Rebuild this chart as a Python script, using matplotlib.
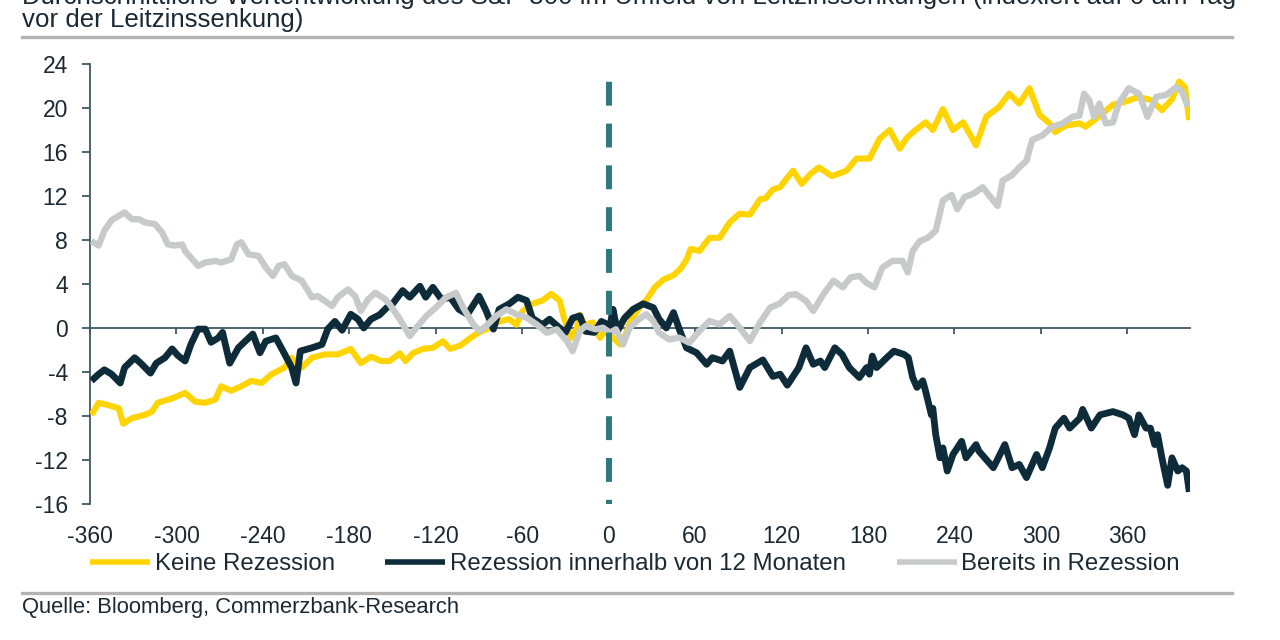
import matplotlib
matplotlib.use("Agg")
import matplotlib.pyplot as plt
from matplotlib.lines import Line2D

plt.rcParams['font.family'] = ['Liberation Sans', 'DejaVu Sans']

# ---------------- data ----------------
title_line1 = "Durchschnittliche Wertentwicklung des S&P 500 im Umfeld von Leitzinssenkungen (indexiert auf 0 am Tag"
title_line2 = "vor der Leitzinssenkung)"
source_text = "Quelle: Bloomberg, Commerzbank-Research"
series_names = ["Keine Rezession", "Rezession innerhalb von 12 Monaten", "Bereits in Rezession"]

x_ticks = [-360, -300, -240, -180, -120, -60, 0, 60, 120, 180, 240, 300, 360]
y_ticks = [-16, -12, -8, -4, 0, 4, 8, 12, 16, 20, 24]

keine_rezession = [
    (-359, -7.9), (-354, -6.8), (-345, -7.1), (-340, -7.3), (-337, -8.7), (-331, -8.2),
    (-322, -7.9), (-317, -7.6), (-313, -6.8), (-303, -6.4), (-294, -5.9), (-287, -6.7),
    (-280, -6.8), (-273, -6.5), (-269, -5.3), (-262, -5.7), (-255, -5.3), (-248, -4.8),
    (-241, -5.0), (-234, -4.2), (-225, -3.6), (-220, -2.7), (-213, -3.6), (-206, -2.7),
    (-197, -2.4), (-188, -2.4), (-179, -1.9), (-172, -3.2), (-165, -2.6), (-158, -3.0),
    (-152, -3.0), (-145, -2.3), (-141, -3.0), (-136, -2.3), (-129, -1.9), (-122, -1.8),
    (-115, -1.2), (-110, -1.9), (-103, -1.6), (-96, -0.9), (-90, -0.4), (-83, 0.0),
    (-76, 0.6), (-69, 0.8), (-64, 0.3), (-60, 1.5), (-53, 2.2), (-46, 2.5), (-40, 3.1),
    (-34, 2.5), (-31, 0.9), (-26, -0.9), (-22, 0.0), (-20, 1.2), (-17, 0.3), (-11, 0.5),
    (-6, -0.9), (-2, -0.2), (3, -0.9), (8, -1.5), (11, -0.9), (15, 0.6), (22, 2.0),
    (26, 2.5), (32, 3.7), (38, 4.4), (45, 4.8), (50, 5.4), (54, 6.2), (57, 7.2), (63, 7.0),
    (70, 8.2), (77, 8.2), (84, 9.6), (91, 10.4), (98, 10.3), (105, 11.7), (109, 11.8),
    (114, 12.6), (119, 12.8), (123, 13.5), (128, 14.3), (134, 13.1), (140, 14.0),
    (146, 14.6), (155, 13.8), (165, 14.3), (172, 15.4), (181, 15.4), (188, 17.2),
    (195, 18.0), (202, 16.3), (207, 17.3), (213, 18.0), (220, 18.7), (225, 18.0),
    (232, 19.9), (239, 18.0), (246, 18.7), (255, 16.6), (262, 19.2), (271, 20.1),
    (278, 21.3), (285, 20.4), (292, 21.8), (299, 19.4), (306, 18.6), (310, 17.8),
    (317, 18.4), (327, 18.6), (331, 18.3), (340, 19.2), (350, 20.3), (359, 20.6),
    (368, 21.0), (377, 20.7), (384, 19.8), (391, 20.8), (396, 22.4), (400, 21.9), (403, 18.9),
]

rezession_12m = [
    (-359, -4.8), (-354, -4.2), (-350, -3.8), (-345, -4.2), (-339, -5.0), (-336, -3.6),
    (-329, -2.7), (-324, -3.3), (-318, -4.1), (-314, -3.2), (-308, -2.7), (-303, -1.9),
    (-299, -2.5), (-294, -3.0), (-290, -1.5), (-285, -0.1), (-280, -0.1), (-276, -1.3),
    (-271, -0.9), (-268, -0.4), (-263, -3.2), (-257, -1.8), (-253, -1.3), (-247, -0.55),
    (-242, -2.25), (-238, -1.2), (-231, -0.9), (-226, -2.1), (-220, -3.6), (-217, -5.0),
    (-214, -2.1), (-206, -1.8), (-199, -1.5), (-195, -0.1), (-190, 0.6), (-185, -0.2),
    (-179, 1.25), (-174, 0.8), (-170, 0.0), (-165, 0.8), (-159, 1.2), (-154, 1.85),
    (-150, 2.2), (-143, 3.4), (-138, 2.8), (-131, 3.8), (-127, 2.8), (-122, 3.7),
    (-116, 2.6), (-110, 2.8), (-104, 1.7), (-98, 1.25), (-90, 2.9), (-85, 1.55),
    (-80, -0.1), (-76, 1.7), (-69, 2.2), (-63, 2.8), (-57, 2.5), (-53, 0.9), (-46, 0.3),
    (-41, 0.8), (-34, 0.0), (-30, -0.4), (-25, 0.9), (-20, 1.1), (-16, -0.3), (-10, -0.4),
    (-5, 0.6), (1, 0.2), (3, 1.7), (6, -0.3), (11, 0.9), (17, 1.7), (24, 2.2), (31, 1.85),
    (35, 0.8), (40, 0.0), (45, 1.4), (49, -0.1), (54, -1.8), (61, -2.25), (68, -3.3),
    (72, -2.7), (79, -3.0), (84, -2.1), (91, -5.4), (98, -3.6), (107, -2.9), (114, -4.4),
    (119, -4.2), (124, -5.2), (132, -3.6), (137, -1.8), (142, -3.3), (147, -3.0),
    (150, -3.6), (157, -1.8), (162, -2.4), (167, -3.6), (174, -4.5), (179, -3.6),
    (181, -4.2), (183, -2.55), (186, -3.6), (193, -2.7), (198, -2.1), (205, -2.4),
    (208, -2.7), (211, -4.5), (214, -5.4), (218, -4.8), (220, -5.75), (224, -7.9),
    (225, -7.3), (227, -9.7), (230, -11.8), (232, -10.9), (235, -13.0), (239, -11.5),
    (245, -10.3), (248, -11.8), (255, -10.6), (257, -11.2), (267, -12.7), (275, -10.6),
    (280, -12.7), (285, -12.4), (290, -13.6), (297, -11.5), (301, -12.7), (306, -10.9),
    (310, -9.1), (316, -8.2), (320, -9.1), (327, -8.2), (329, -7.4), (335, -9.1),
    (341, -7.9), (350, -7.6), (357, -7.9), (361, -8.2), (365, -9.7), (368, -7.9),
    (373, -9.1), (376, -9.1), (379, -10.6), (381, -9.7), (384, -11.8), (388, -14.3),
    (391, -11.8), (395, -13.0), (398, -12.7), (401, -13.0), (403, -14.9),
]

bereits_rezession = [
    (-359, 7.9), (-354, 7.5), (-350, 8.85), (-345, 9.8), (-340, 10.2), (-336, 10.5),
    (-331, 9.9), (-326, 9.9), (-322, 9.6), (-315, 9.45), (-310, 8.7), (-306, 7.6),
    (-301, 7.5), (-296, 7.6), (-294, 7.0), (-290, 6.4), (-285, 5.65), (-280, 5.95),
    (-273, 6.1), (-269, 5.95), (-262, 6.25), (-258, 7.6), (-255, 7.8), (-250, 6.7),
    (-243, 6.55), (-238, 5.5), (-233, 4.74), (-229, 5.65), (-225, 5.8), (-220, 4.74),
    (-213, 4.3), (-206, 2.8), (-202, 2.9), (-197, 2.46), (-192, 2.0), (-188, 2.8),
    (-181, 3.5), (-176, 2.9), (-172, 1.55), (-167, 2.6), (-162, 3.2), (-155, 2.6),
    (-152, 2.16), (-145, 0.8), (-138, -0.73), (-133.5, 0.03), (-126.5, 1.1), (-120, 1.85),
    (-113, 2.77), (-106, 3.2), (-101, 1.85), (-94, 0.33), (-89.5, -0.27), (-85, 0.18),
    (-78, 1.1), (-71, 1.7), (-64, 1.25), (-57, 0.94), (-50, 0.33), (-43, -0.43),
    (-36, -0.12), (-29, -1.19), (-25, -2.1), (-20, -0.27), (-16, 0.18), (-9, -0.12),
    (-4, 0.03), (1, -0.43), (5, -0.12), (10, -1.5), (14.5, 0.03), (21, 0.8), (26, 1.25),
    (31, 0.64), (35, -0.43), (42, -1.04), (49, -0.88), (56, -1.34), (63, -0.27),
    (70, 0.64), (77, 0.33), (84, 1.1), (91, 0.03), (98, -1.19), (105, 0.48), (112, 1.85),
    (118.5, 2.2), (125, 3.0), (130, 3.07), (137, 2.46), (142, 1.55), (149, 3.07),
    (156, 4.3), (162.5, 3.7), (168, 4.6), (174, 4.74), (179, 4.1), (184.5, 3.7),
    (190, 5.5), (197, 6.1), (204, 6.1), (207.6, 5.05), (211, 7.0), (216, 7.9),
    (221.5, 8.2), (227, 8.85), (232, 11.6), (238, 12.1), (242, 10.8), (247, 11.9),
    (253, 12.2), (259.6, 12.8), (265, 11.9), (270, 11.1), (273.5, 13.4), (280, 13.9),
    (285, 14.6), (290, 15.2), (294, 17.1), (301, 17.5), (308, 18.3), (315, 18.6),
    (322, 19.2), (326.7, 19.3), (330, 21.3), (333.6, 20.7), (337, 19.2), (340.6, 20.4),
    (345, 18.6), (350, 18.7), (354, 20.4), (361, 21.8), (368, 21.3), (374, 19.2),
    (380, 21.0), (387, 21.2), (394, 21.9), (398, 21.5), (402, 20.1),
]

# ---------------- styling ----------------
c_yellow = "#FFD400"
c_dark = "#0E2B3A"
c_gray = "#C7CACB"
c_dash = "#2C7A80"
c_axis = "#3E5863"
c_text = "#1B2933"
c_rule = "#B3B3B3"

fig = plt.figure(figsize=(12.8, 6.4), dpi=100)
ax = fig.add_axes([90 / 1280, 1 - 504 / 640, 1100 / 1280, 440 / 640])

series = [keine_rezession, rezession_12m, bereits_rezession]
colors = [c_yellow, c_dark, c_gray]
widths = [4.4, 4.9, 4.6]
for data, col, lw, name in zip(series, colors, widths, series_names):
    xs = [p[0] for p in data]
    ys = [p[1] for p in data]
    ax.plot(xs, ys, color=col, lw=lw, label=name, zorder=3,
            solid_joinstyle="round", solid_capstyle="butt")

# vertical dashed marker at the day of the rate cut
ax.axvline(0, color=c_dash, lw=4.3, linestyle=(3.3, (4.0, 3.0)),
           dash_capstyle="butt", zorder=4)

ax.set_xlim(-360, 403.5)
ax.set_ylim(-16, 24)

ax.set_xticks(x_ticks)
ax.set_xticklabels([str(t) for t in x_ticks])
ax.set_yticks(y_ticks)
ax.set_yticklabels([str(t) for t in y_ticks])

for s in ["top", "right"]:
    ax.spines[s].set_visible(False)
ax.spines["bottom"].set_position(("data", 0))
ax.spines["bottom"].set_color(c_axis)
ax.spines["left"].set_color(c_axis)
ax.spines["bottom"].set_linewidth(1.3)
ax.spines["left"].set_linewidth(1.3)
ax.spines["bottom"].set_zorder(2)

ax.tick_params(axis="x", direction="out", length=4, width=1.3, color=c_axis,
               labelsize=16.5, labelcolor=c_text, pad=138)
ax.tick_params(axis="y", direction="out", length=6, width=1.3, color=c_axis,
               labelsize=16.5, labelcolor=c_text, pad=10)
ax.patch.set_alpha(0)

# title
fig.text(22 / 1280, 1 - 4 / 640, title_line1, fontsize=18.6, color=c_text,
         ha="left", va="baseline")
fig.text(22 / 1280, 1 - 27 / 640, title_line2, fontsize=18.6, color=c_text,
         ha="left", va="baseline")

# grey rules
fig.add_artist(Line2D([22 / 1280, 1232 / 1280], [1 - 37 / 640, 1 - 37 / 640],
                      color=c_rule, lw=2.4, transform=fig.transFigure))
fig.add_artist(Line2D([22 / 1280, 1232 / 1280], [1 - 593 / 640, 1 - 593 / 640],
                      color=c_rule, lw=2.4, transform=fig.transFigure))

# legend
leg = fig.legend(loc="center left", bbox_to_anchor=(90 / 1280, 1 - 564 / 640),
                 ncol=3, frameon=False, fontsize=17.3, handlelength=2.5,
                 handletextpad=0.2, columnspacing=2.1, borderpad=0,
                 borderaxespad=0)
for t in leg.get_texts():
    t.set_color(c_text)
for h in leg.get_lines():
    h.set_linewidth(4.0)

# source
fig.text(22 / 1280, 1 - 608 / 640, source_text, fontsize=15.8, color=c_text,
         ha="left", va="center")

fig.savefig("out.png", dpi=100, facecolor="white")
